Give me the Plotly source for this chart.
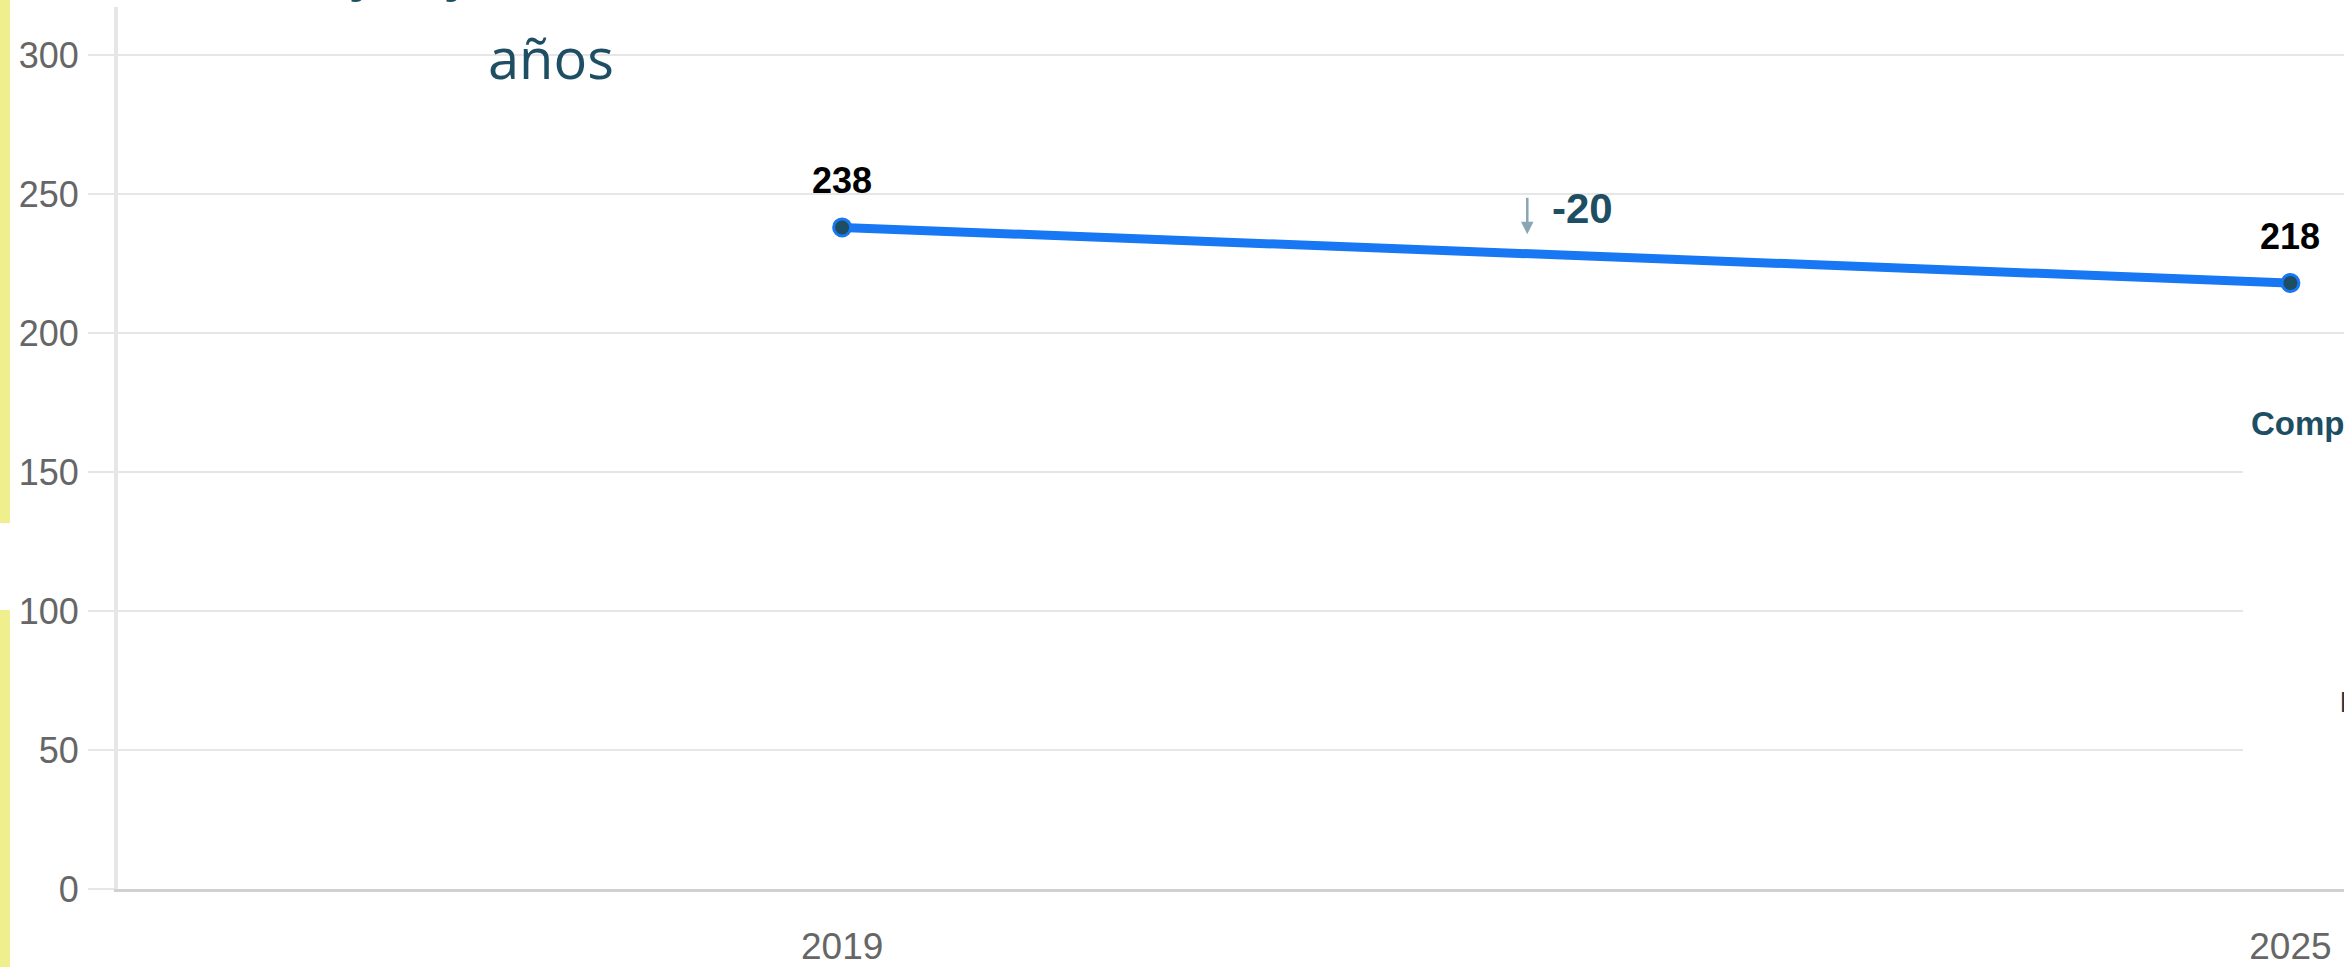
import plotly.graph_objects as go

# ------------------------------------------------------------------
# Data
# ------------------------------------------------------------------
years = ["2019", "2025"]
values = [238, 218]
y_ticks = [0, 50, 100, 150, 200, 250, 300]
title_tail = "años"
side_label = "Comp"

W, H = 2344, 967
L, R, T, B = 118, 0, 7, 78

TEAL = "#1d4e63"
BLUE = "#1877f2"
GRID = "#e6e6e6"
TICK_FONT = "Liberation Sans, Arial, sans-serif"


def px(x):
    """Screen x pixel -> paper x."""
    return (x - L) / (W - L - R)


def py(y):
    """Screen y pixel -> paper y."""
    return (H - B - y) / (H - T - B)


idx = list(range(len(years)))

fig = go.Figure(
    go.Scatter(
        x=idx,
        y=values,
        mode="lines+markers",
        line={"color": BLUE, "width": 9},
        marker={"size": 17, "color": TEAL, "line": {"color": BLUE, "width": 3}},
        cliponaxis=False,
        hoverinfo="skip",
    )
)

# value labels above each point
annotations = [
    {
        "x": i,
        "y": v,
        "text": f"<b>{v}</b>",
        "showarrow": False,
        "yshift": 47,
        "font": {"family": TICK_FONT, "size": 36, "color": "#000"},
    }
    for i, v in zip(idx, values)
]

# change between the two years
delta = values[-1] - values[0]
mid_x = (idx[0] + idx[-1]) / 2
mid_y = sum(values) / len(values)
annotations += [
    {
        "x": mid_x,
        "y": mid_y,
        "text": f"<b>{delta}</b>",
        "showarrow": False,
        "xanchor": "left",
        "xshift": -16,
        "yshift": 47,
        "font": {"family": TICK_FONT, "size": 42, "color": TEAL},
    },
    {
        "x": mid_x,
        "y": mid_y,
        "text": "",
        "showarrow": True,
        "arrowhead": 2,
        "arrowsize": 1,
        "arrowwidth": 2.5,
        "arrowcolor": "#8aa6b2",
        "ax": 0,
        "ay": -38,
        "xshift": -39,
        "yshift": 21,
    },
]

# overlaid page text (title fragments, side box)
annotations += [
    {
        "xref": "paper", "yref": "paper",
        "x": px(551), "y": py(57),
        "text": title_tail, "showarrow": False,
        "xanchor": "center", "yanchor": "middle",
        "font": {"family": "Open Sans", "size": 56, "color": TEAL},
    },
    {
        "xref": "paper", "yref": "paper",
        "x": px(365), "y": py(-34),
        "text": "y", "showarrow": False,
        "xanchor": "center", "yanchor": "middle",
        "font": {"family": "Open Sans", "size": 56, "color": TEAL},
    },
    {
        "xref": "paper", "yref": "paper",
        "x": px(460), "y": py(-34),
        "text": "y", "showarrow": False,
        "xanchor": "center", "yanchor": "middle",
        "font": {"family": "Open Sans", "size": 56, "color": TEAL},
    },
    {
        "xref": "paper", "yref": "paper",
        "x": px(2249), "y": py(423),
        "text": f"<b>{side_label}</b>", "showarrow": False,
        "xanchor": "left", "yanchor": "middle",
        "font": {"family": TICK_FONT, "size": 33, "color": TEAL},
    },
    {
        "xref": "paper", "yref": "paper",
        "x": px(2338), "y": py(701),
        "text": "<b>P</b>", "showarrow": False,
        "xanchor": "left", "yanchor": "middle",
        "font": {"family": TICK_FONT, "size": 30, "color": "#2a3447"},
    },
]

shapes = [
    # yellow page border on the left
    {"type": "rect", "xref": "paper", "yref": "paper",
     "x0": px(0), "x1": px(10), "y0": py(0), "y1": py(523),
     "fillcolor": "#eff08d", "line": {"width": 0}, "layer": "above"},
    {"type": "rect", "xref": "paper", "yref": "paper",
     "x0": px(0), "x1": px(10), "y0": py(610), "y1": py(967),
     "fillcolor": "#eff08d", "line": {"width": 0}, "layer": "above"},
    # white side box covering the gridlines on the right
    {"type": "rect", "xref": "paper", "yref": "paper",
     "x0": px(2243), "x1": px(2344), "y0": py(370), "y1": py(860),
     "fillcolor": "#ffffff", "line": {"width": 0}, "layer": "above"},
]

fig.update_layout(
    width=W,
    height=H,
    margin={"l": L, "r": R, "t": T, "b": B, "pad": 0, "autoexpand": False},
    paper_bgcolor="#ffffff",
    plot_bgcolor="rgba(0,0,0,0)",
    showlegend=False,
    annotations=annotations,
    shapes=shapes,
    xaxis={
        "range": [-0.5, 1.037],
        "tickvals": idx,
        "ticktext": years,
        "automargin": False,
        "showgrid": False,
        "zeroline": False,
        "showline": True,
        "linecolor": "#d0d0d0",
        "linewidth": 3,
        "ticks": "",
        "ticklabelstandoff": 23,
        "tickfont": {"family": TICK_FONT, "size": 37, "color": "#666"},
    },
    yaxis={
        "range": [0, 317.3],
        "tickvals": y_ticks,
        "automargin": False,
        "showgrid": True,
        "gridcolor": GRID,
        "gridwidth": 2,
        "zeroline": False,
        "showline": True,
        "linecolor": GRID,
        "linewidth": 4,
        "ticks": "outside",
        "ticklen": 26,
        "tickwidth": 2,
        "tickcolor": GRID,
        "ticklabelstandoff": 2,
        "tickfont": {"family": TICK_FONT, "size": 36, "color": "#666"},
    },
)

fig.write_html(
    "out.html",
    config={"displayModeBar": False},
    post_script="document.body.style.margin='0';",
)
